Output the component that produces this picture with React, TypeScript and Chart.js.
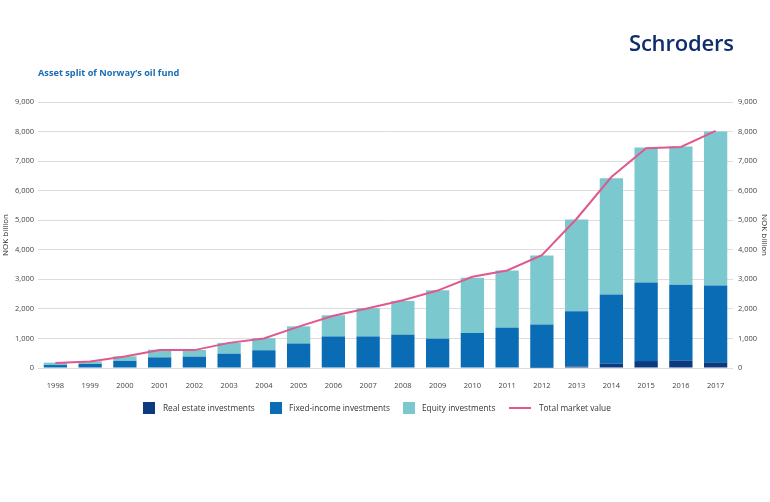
import React, { useEffect, useRef } from "react";
import { Chart, registerables } from "chart.js";

Chart.register(...registerables);

const years = ["1998","1999","2000","2001","2002","2003","2004","2005","2006","2007","2008","2009","2010","2011","2012","2013","2014","2015","2016","2017"];
const realEstate = [0,0,0,0,0,0,0,0,0,0,0,0,0,0,10,50,145,235,255,190];
const fixedIncome = [100,135,240,360,385,485,600,830,1068,1068,1130,995,1185,1365,1458,1870,2340,2657,2558,2600];
const equity = [80,90,155,260,225,365,410,580,717,957,1141,1635,1865,1932,2339,3107,3932,4566,4679,5210];
const totalMarketValue = [170,220,390,610,605,850,1000,1400,1770,2020,2290,2620,3085,3300,3815,5050,6460,7435,7478,8020];

const C_RE = "#0b3a7e";
const C_FI = "#0a6cb4";
const C_EQ = "#7bc9cf";
const C_TOT = "#e0588d";
const FONT = "'Open Sans', 'Noto Sans', sans-serif";

const legendItems = [
  { label: "Real estate investments", color: C_RE, kind: "box", x: 143, tx: 163 },
  { label: "Fixed-income investments", color: C_FI, kind: "box", x: 270, tx: 289 },
  { label: "Equity investments", color: C_EQ, kind: "box", x: 403, tx: 422 },
  { label: "Total market value", color: C_TOT, kind: "line", x: 509, tx: 539 },
];

export default function App() {
  const ref = useRef<HTMLCanvasElement | null>(null);
  useEffect(() => {
    if (!ref.current) return;
    const fmt = (v: any) => Number(v).toLocaleString("en-US");
    const tickFont = { family: FONT, size: 7.5 };
    const chart = new Chart(ref.current, {
      type: "bar",
      data: {
        labels: years,
        datasets: [
          { type: "line", label: "Total market value", data: totalMarketValue, borderColor: C_TOT, backgroundColor: C_TOT, borderWidth: 2, pointRadius: 0, tension: 0, stack: "line", order: 0 } as any,
          { label: "Real estate investments", data: realEstate, backgroundColor: C_RE, stack: "bars", order: 1, barPercentage: 0.67, categoryPercentage: 1 },
          { label: "Fixed-income investments", data: fixedIncome, backgroundColor: C_FI, stack: "bars", order: 1, barPercentage: 0.67, categoryPercentage: 1 },
          { label: "Equity investments", data: equity, backgroundColor: C_EQ, stack: "bars", order: 1, barPercentage: 0.67, categoryPercentage: 1 },
        ],
      },
      options: {
        animation: false,
        responsive: false,
        layout: { padding: { top: 102, bottom: 114, left: 0, right: 0 } },
        plugins: { legend: { display: false }, tooltip: { enabled: false } },
        scales: {
          x: {
            stacked: true,
            grid: { display: false },
            border: { display: false },
            ticks: { color: "#444", font: tickFont, padding: 5, maxRotation: 0 },
            afterFit: (s: any) => { s.height = 20; },
          },
          y: {
            position: "left",
            stacked: true,
            min: 0,
            max: 9000,
            ticks: { stepSize: 1000, color: "#444", font: tickFont, padding: 4, callback: fmt },
            grid: { color: "#dcdcdc", lineWidth: 1, drawTicks: false },
            border: { display: false },
            title: { display: true, text: "NOK billion", color: "#333", font: { family: FONT, size: 8 }, padding: 1 },
            afterFit: (s: any) => { s.width = 38; },
          },
          y1: {
            position: "right",
            min: 0,
            max: 9000,
            ticks: { stepSize: 1000, color: "#444", font: tickFont, padding: 5, callback: fmt },
            grid: { display: false, drawTicks: false },
            border: { display: false },
            title: { display: true, text: "NOK billion", color: "#333", font: { family: FONT, size: 8 }, padding: 1 },
            afterFit: (s: any) => { s.width = 37; },
          },
        },
      } as any,
    });
    return () => chart.destroy();
  }, []);

  return (
    <div style={{ position: "fixed", left: 0, top: 0, width: 770, height: 502, background: "#fff", fontFamily: FONT }}>
      <canvas ref={ref} width={770} height={502} style={{ position: "absolute", left: 0, top: 0, width: 770, height: 502 }} />
      <div style={{ position: "absolute", left: 629, top: 27, fontSize: 22, fontWeight: 600, color: "#0f2d6b", lineHeight: "30px", letterSpacing: -0.2 }}>Schroders</div>
      <div style={{ position: "absolute", left: 38, top: 66, fontSize: 9.2, fontWeight: 700, color: "#1a6cb3", lineHeight: "14px" }}>Asset split of Norway’s oil fund</div>
      {legendItems.map((it) => (
        <React.Fragment key={it.label}>
          {it.kind === "box" ? (
            <div style={{ position: "absolute", left: it.x, top: 402, width: 12, height: 12, background: it.color }} />
          ) : (
            <div style={{ position: "absolute", left: it.x, top: 407, width: 22, height: 2, background: it.color }} />
          )}
          <div style={{ position: "absolute", left: it.tx, top: 401, fontSize: 8.3, color: "#333", lineHeight: "14px", whiteSpace: "nowrap" }}>{it.label}</div>
        </React.Fragment>
      ))}
    </div>
  );
}
